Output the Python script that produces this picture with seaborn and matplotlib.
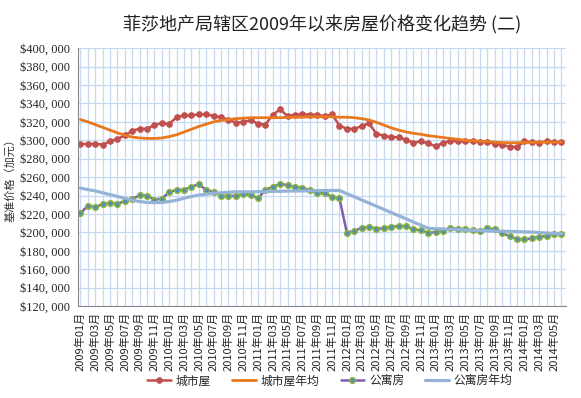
import numpy as np
import pandas as pd
import matplotlib
matplotlib.use("Agg")
import matplotlib.pyplot as plt
import seaborn as sns
from matplotlib.ticker import FuncFormatter, MultipleLocator

# 数据 (单位: 千加元), 2009年01月 - 2014年06月
months = [f"{y}年{m:02d}月" for y in range(2009, 2015) for m in range(1, 13)][:66]

house = [296, 296, 296, 295.4, 298.7, 301.5, 305.2, 310.5, 312.4, 312.4,
         316.7, 318.5, 317.8, 325.1, 326.9, 326.9, 328.2, 328.2, 326.3, 325.1,
         322.3, 319.2, 319.8, 321.6, 318, 317, 327.8, 333.5, 326, 327.8,
         328.4, 327.8, 327.5, 326.3, 328, 316, 312.4, 312.4, 315.3, 318.6,
         306.9, 305.1, 303.3, 303.3, 300.6, 297.2, 299, 296.5, 293.5, 297.2,
         299, 299, 298.9, 298.9, 298.2, 298.2, 296.3, 295.3, 292.8, 292.8,
         298.7, 298, 297.3, 299, 298, 298]

house_avg = [322.5, 320, 317, 314, 311, 308, 305.5, 303.5, 302.5, 302,
             302, 302.5, 304, 306, 309, 312, 315, 317.5, 320, 321.5,
             322.5, 323.5, 324, 324.5, 324.5, 324.5, 324.5, 324.5, 325, 325,
             325, 325.5, 325.5, 325.5, 325.5, 325, 325, 324.5, 323.5, 322,
             319.5, 316.5, 313.5, 311, 309, 307.5, 306.5, 305, 304, 303,
             302, 301, 300, 299.5, 299, 298.5, 298, 297.5, 297.3, 297.3,
             297.5, 297.8, 298, 298, 298, 298]

condo = [220.7, 229, 227.6, 230.5, 232, 231.2, 233.8, 236.3, 240.3, 240,
         235.6, 236.7, 243.7, 246.2, 246.2, 249.4, 252.4, 245.8, 244.3, 239.6,
         239.6, 239.6, 241.5, 240.8, 237, 246.2, 249.4, 252.7, 251.2, 249.4,
         248.3, 245.5, 242.5, 242.5, 238.5, 237, 199.6, 201.5, 205, 206.1,
         204, 204.3, 206.1, 206.8, 206.8, 203.3, 202.2, 199.6, 200.3, 201.5,
         204.3, 204, 203.3, 202.2, 201.5, 204.3, 203.3, 198.9, 196, 192.4,
         192.4, 193.5, 195.2, 196, 198.5, 197.8]

condo_avg = [248, 246.5, 245, 243, 241, 239, 237, 235, 233.5, 232.5,
             232.3, 232.5, 233.5, 235, 237, 239, 240.5, 241.5, 242.5, 243,
             243.5, 244, 244, 244, 244.2, 244.3, 244.5, 244.6, 244.8, 245,
             245, 245.2, 245.3, 245.4, 245.5, 245.5, 242, 238.7, 235.2, 231.8,
             228.4, 225, 221.5, 218.1, 214.7, 211.2, 207.8, 204.4, 204, 203.7,
             203.3, 203, 202.5, 202.2, 202, 201.8, 201.5, 201.3, 201, 200.8,
             200.5, 200.3, 199.8, 199.3, 198.8, 198.5]

df = pd.DataFrame({
    "idx": np.arange(len(months)),
    "城市屋": np.array(house) * 1000,
    "城市屋年均": np.array(house_avg) * 1000,
    "公寓房": np.array(condo) * 1000,
    "公寓房年均": np.array(condo_avg) * 1000,
})

sns.set_style("white")
plt.rcParams['font.family'] = ['Noto Sans CJK SC', 'DejaVu Sans']

fig = plt.figure(figsize=(5.81, 3.98), dpi=100)
ax = fig.add_axes([0.134, 0.231, 0.840, 0.648])

sns.lineplot(data=df, x="idx", y="城市屋", ax=ax, color="#C0504D", lw=1.8,
             marker="o", markersize=4, markeredgecolor="#C0504D", label="城市屋")
sns.lineplot(data=df, x="idx", y="城市屋年均", ax=ax, color="#E8791F", lw=2,
             label="城市屋年均")
sns.lineplot(data=df, x="idx", y="公寓房", ax=ax, color="#7F5FA8", lw=1.8,
             marker="o", markersize=4, markerfacecolor="#4F8FB0",
             markeredgecolor="#8DB33F", markeredgewidth=1.1, label="公寓房")
sns.lineplot(data=df, x="idx", y="公寓房年均", ax=ax, color="#95B3D7", lw=2.3,
             label="公寓房年均")

ax.set_xlim(-0.35, 65.6)
ax.set_ylim(120000, 400000)
ax.yaxis.set_major_locator(MultipleLocator(20000))
ax.yaxis.set_major_formatter(FuncFormatter(lambda v, p: f"${v/1000:.0f}, 000"))
ax.set_xticks(df["idx"], minor=True)
ax.set_xticks(df["idx"][::2])
ax.set_xticklabels(months[::2], rotation=90, fontsize=8)
for t in ax.get_yticklabels():
    t.set_fontfamily("Liberation Serif")
    t.set_fontsize(9)
ax.tick_params(axis="x", which="both", length=3, color="#888888", pad=1)
ax.tick_params(axis="y", length=3, color="#888888", pad=3)

ax.grid(True, which="both", color="#C6D9F1", lw=0.9)
ax.set_axisbelow(True)
for s in ["top", "right"]:
    ax.spines[s].set_visible(False)
for s in ["left", "bottom"]:
    ax.spines[s].set_color("#888888")

ax.set_xlabel("")
ax.set_ylabel("基准价格（加元）", fontsize=8, color="#333333", labelpad=3)
ax.set_title("菲莎地产局辖区2009年以来房屋价格变化趋势 (二)", fontsize=13,
             pad=13, color="#222222")

h, l = ax.get_legend_handles_labels()
ax.get_legend().remove()
fig.legend(h, l, loc="lower center", bbox_to_anchor=(0.568, 0.0), ncol=4,
           frameon=False, fontsize=8.5, handlelength=2.0, columnspacing=1.8,
           handletextpad=0.4)

plt.savefig("out.png", dpi=100)
